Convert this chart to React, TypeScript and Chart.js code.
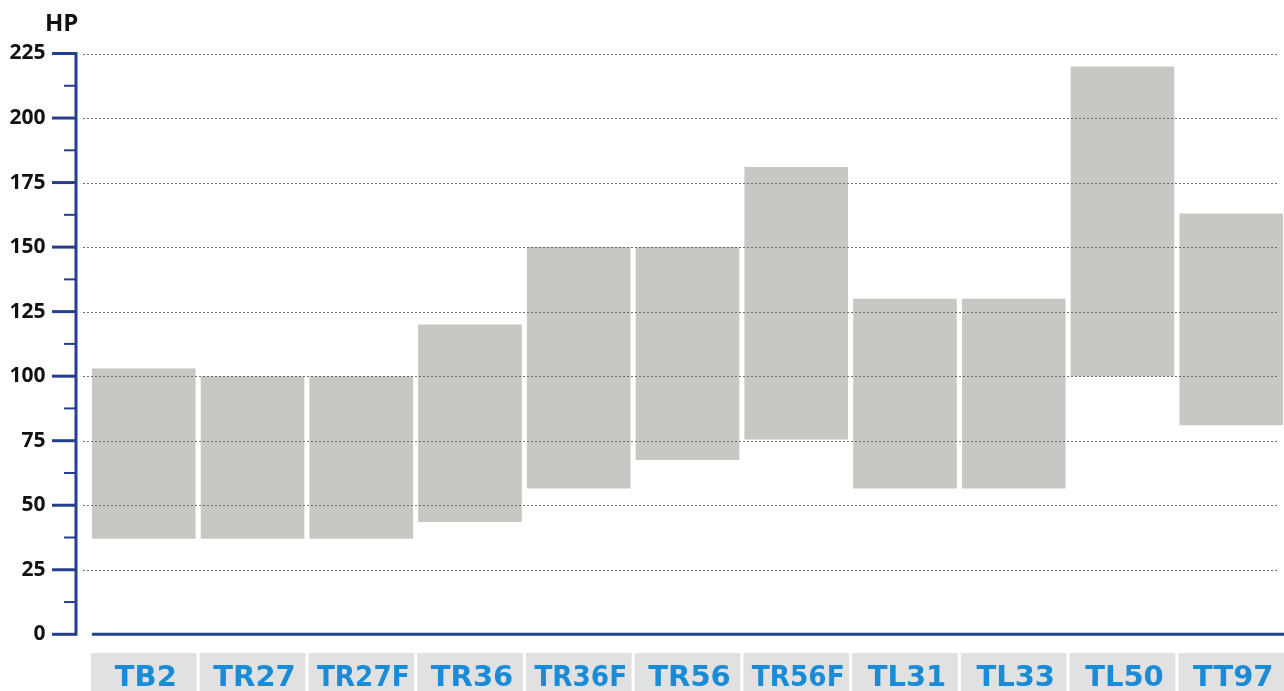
import React, { useEffect, useRef } from "react";
import { Chart, registerables } from "chart.js";

Chart.register(...registerables);

const categories = ["TB2", "TR27", "TR27F", "TR36", "TR36F", "TR56", "TR56F", "TL31", "TL33", "TL50", "TT97"];
const lowValues = [37, 37, 37, 43.5, 56.5, 67.5, 75.5, 56.5, 56.5, 100, 81];
const highValues = [103, 100, 100, 120, 150, 150, 181, 130, 130, 220, 163];
const yTicks = [0, 25, 50, 75, 100, 125, 150, 175, 200, 225];
const yTitle = "HP";

const AXIS_BLUE = "#243f8c";

const decorPlugin = {
  id: "decor",
  beforeDraw(chart: any) {
    const { ctx } = chart;
    const x = chart.scales.x;
    const pitch = x.width / categories.length;
    ctx.save();
    ctx.fillStyle = "#e1e1e1";
    categories.forEach((_, i) => {
      const cx = x.getPixelForValue(i);
      ctx.fillRect(cx - pitch / 2 + 1.5, 653, pitch - 3, 40);
    });
    ctx.restore();
  },
  afterDatasetsDraw(chart: any) {
    const { ctx } = chart;
    const y = chart.scales.y;
    ctx.save();
    ctx.strokeStyle = "#6f6f6f";
    ctx.lineWidth = 1;
    ctx.setLineDash([2, 2]);
    yTicks.forEach((v) => {
      if (v === 0) return;
      const py = Math.round(y.getPixelForValue(v)) + 0.5;
      ctx.beginPath();
      ctx.moveTo(83, py);
      ctx.lineTo(1277, py);
      ctx.stroke();
    });
    ctx.restore();
  },
  afterDraw(chart: any) {
    const { ctx, chartArea } = chart;
    const x = chart.scales.x;
    const y = chart.scales.y;
    const pitch = x.width / categories.length;
    const axisX = 76;
    const y0 = y.getPixelForValue(0);
    const yTop = y.getPixelForValue(225);
    ctx.save();
    ctx.strokeStyle = AXIS_BLUE;
    ctx.lineWidth = 3;
    ctx.setLineDash([]);
    ctx.beginPath();
    ctx.moveTo(axisX, yTop - 1.5);
    ctx.lineTo(axisX, y0 + 1.5);
    ctx.stroke();
    for (let v = 0; v <= 225; v += 12.5) {
      const py = y.getPixelForValue(v);
      const major = v % 25 === 0;
      ctx.lineWidth = major ? 3 : 2;
      ctx.beginPath();
      ctx.moveTo(major ? 52 : 64, py);
      ctx.lineTo(axisX, py);
      ctx.stroke();
    }
    ctx.lineWidth = 3;
    ctx.beginPath();
    ctx.moveTo(chartArea.left + 2.5, y0);
    ctx.lineTo(chart.width, y0);
    ctx.stroke();

    ctx.fillStyle = "#111";
    ctx.font = "bold 24px 'Open Sans'";
    ctx.textAlign = "left";
    ctx.textBaseline = "alphabetic";
    ctx.fillText(yTitle, 45, 31);

    ctx.fillStyle = "#1a8bd6";
    ctx.font = "bold 29px 'DejaVu Sans'";
    ctx.textAlign = "center";
    ctx.textBaseline = "alphabetic";
    categories.forEach((c, i) => {
      const cx = x.getPixelForValue(i);
      ctx.fillText(c, cx + 2, 686, pitch - 16);
    });
    ctx.restore();
  },
};

export default function App() {
  const ref = useRef<HTMLCanvasElement | null>(null);
  useEffect(() => {
    if (!ref.current) return;
    const chart = new Chart(ref.current, {
      type: "bar",
      data: {
        labels: categories,
        datasets: [
          {
            label: yTitle,
            data: categories.map((_, i) => [lowValues[i], highValues[i]]),
            backgroundColor: "rgb(199,199,195)",
            borderWidth: 0,
            borderSkipped: false,
            barPercentage: 0.953,
            categoryPercentage: 1,
          },
        ],
      },
      options: {
        responsive: false,
        animation: false,
        devicePixelRatio: 1,
        layout: { padding: { left: 8, right: 4.4, top: 53.5, bottom: 56.7 } },
        plugins: {
          legend: { display: false },
          tooltip: { enabled: false },
          title: { display: false },
        },
        scales: {
          x: {
            display: false,
            grid: { display: false },
          },
          y: {
            min: 0,
            max: 225,
            afterFit: (s: any) => {
              s.width = 81.4;
              s.paddingTop = 0;
              s.paddingBottom = 0;
            },
            afterBuildTicks: (s: any) => {
              s.ticks = yTicks.map((v) => ({ value: v }));
            },
            grid: { display: false, drawTicks: false },
            border: { display: false },
            ticks: {
              padding: 44,
              color: "#111",
              font: { family: "'Open Sans'", weight: "bold", size: 21 },
            },
          },
        },
      },
      plugins: [decorPlugin],
    });
    return () => chart.destroy();
  }, []);
  return (
    <div style={{ position: "fixed", left: 0, top: 0, width: 1284, height: 691, overflow: "hidden", background: "#fff" }}>
      <canvas ref={ref} width={1290} height={691} style={{ width: 1290, height: 691, display: "block" }} />
    </div>
  );
}
